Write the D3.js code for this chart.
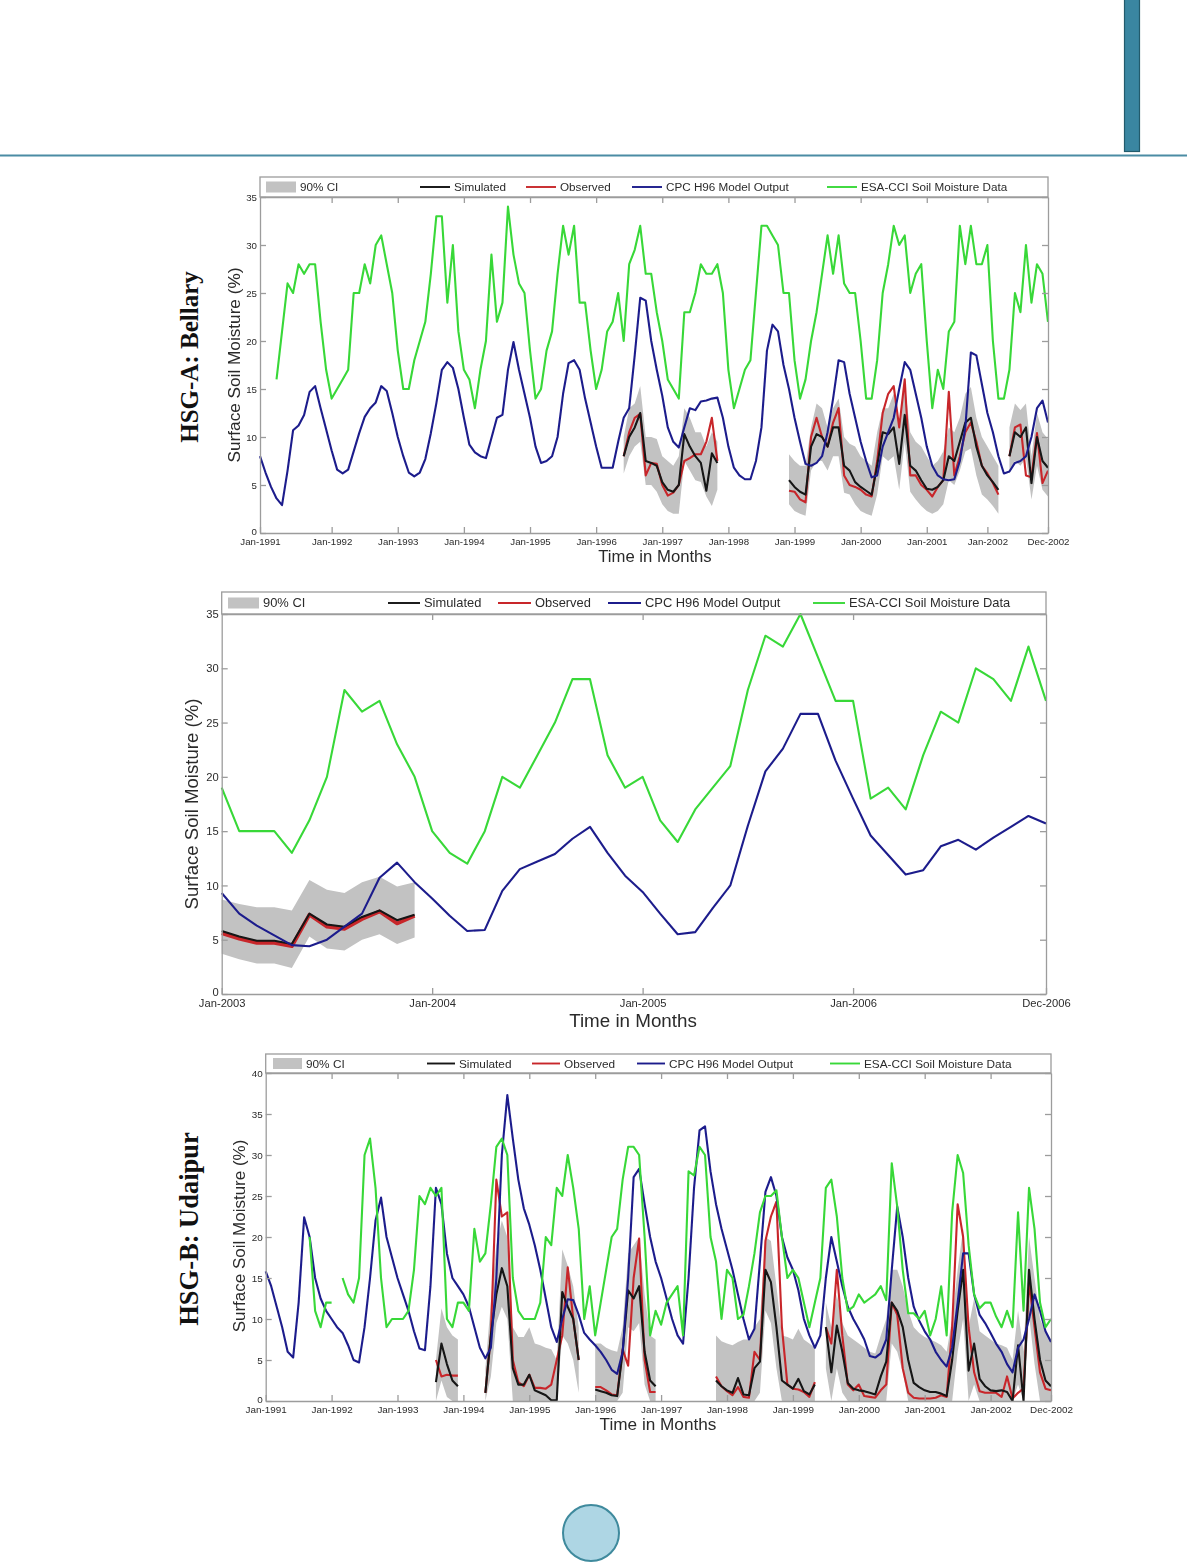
<!DOCTYPE html>
<html>
<head>
<meta charset="utf-8">
<script src="https://cdn.jsdelivr.net/npm/d3@7"></script>
<style>
  html, body { margin: 0; padding: 0; background: #fff; }
  svg { display: block; }
  text { font-family: "Liberation Sans", Arial, sans-serif; fill: #2b2b2b; }
  .side { font-family: "Liberation Serif", serif; font-weight: bold; fill: #111; }
  .axis path, .axis line { stroke: #9c9c9c; }
</style>
</head>
<body>
<svg id="page" width="1187" height="1564">
  <defs><filter id="soft" x="-2%" y="-2%" width="104%" height="104%"><feGaussianBlur stdDeviation="0.35"/></filter></defs>
</svg>
<script>
// ---- series labels
const legendLabels = ['Simulated', 'Observed', 'CPC H96 Model Output', 'ESA-CCI Soil Moisture Data'];
const ciLabel = '90% CI';

// ---- HSG-A Bellary, Jan-1991..Dec-2002, one value per month
const bellaryTickMonths = [0, 13, 25, 37, 49, 61, 73, 85, 97, 109, 121, 132, 143];
const bellaryTickLabels = ['Jan-1991', 'Jan-1992', 'Jan-1993', 'Jan-1994', 'Jan-1995', 'Jan-1996', 'Jan-1997', 'Jan-1998', 'Jan-1999', 'Jan-2000', 'Jan-2001', 'Jan-2002', 'Dec-2002'];
const bellaryEsa = [
  null, null, null, 16, 21, 26, 25, 28, 27, 28, 28, 22,
  17, 14, 15, 16, 17, 25, 25, 28, 26, 30, 31, 28,
  25, 19, 15, 15, 18, 20, 22, 27, 33, 33, 24, 30,
  21, 17, 16, 13, 17, 20, 29, 22, 24, 34, 29, 26,
  25, 19, 14, 15, 19, 21, 27, 32, 29, 32, 24, 24,
  19, 15, 17, 21, 22, 25, 20, 28, 29.5, 32, 27, 27,
  23, 20, 16, 15, 14, 23, 23, 25, 28, 27, 27, 28,
  25, 17, 13, 15, 17, 18, 25, 32, 32, 31, 30, 25,
  25, 18, 14, 16, 20, 23, 27, 31, 27, 31, 26, 25,
  25, 20, 14, 14, 18, 25, 28, 32, 30, 31, 25, 27,
  28, 20, 13, 17, 15, 21, 22, 32, 28, 32, 28, 28,
  30, 20, 14, 14, 17, 25, 23, 30, 24, 28, 27, 22
];
const bellaryCpc = [
  8, 6.3, 4.8, 3.6, 2.9, 6.5, 10.7, 11.2, 12.3, 14.7, 15.3, 13,
  10.8, 8.6, 6.6, 6.2, 6.6, 8.5, 10.4, 12.1, 13, 13.6, 15.3, 14.8,
  12.5, 10, 8, 6.3, 5.9, 6.3, 7.7, 10.4, 13.5, 17, 17.8, 17.2,
  15, 12, 9.2, 8.4, 8, 7.8, 9.9, 12, 12.3, 17, 19.9, 17,
  14.5, 12, 9, 7.3, 7.5, 8, 10, 14.5, 17.7, 18, 17, 14,
  11.5, 9, 6.8, 6.8, 6.8, 9.5, 12, 13, 18.5, 24.5, 24.2, 20,
  17, 14.3, 11, 9.5, 8.9, 11, 13, 12.8, 13.7, 13.8, 14, 14.1,
  12, 9, 6.8, 6, 5.6, 5.6, 7.5, 11, 19, 21.7, 21, 17.5,
  15, 12, 9.5, 7.2, 7, 7.3, 8, 10.5, 14, 18, 17.8, 14.5,
  12, 9.5, 7.5, 5.8, 6, 9, 10.5, 12, 15, 17.8, 17, 14.5,
  12, 9, 7, 6, 5.6, 5.5, 5.6, 7.5, 11, 18.8, 18.5, 15.5,
  12.5, 10.5, 8, 6.2, 6.4, 7.3, 7.5, 8, 10, 13, 13.8, 11.5
];
// validation runs start at these months
const bellaryStart = [66, 96, 136];
const bellarySim = [
  [8, 10, 11, 12.5, 7.5, 7.3, 7, 5.3, 4.5, 4.3, 5, 10.3, 9, 8, 7.3, 4.4, 8.3, 7.3],
  [5.5, 4.8, 4.3, 4, 9, 10.3, 10, 9, 11, 11, 7, 6.5, 5.3, 4.8, 4.4, 4, 7, 10.5, 10.3, 11, 7.2, 12.3, 7, 6.5, 5.5, 4.6, 4.5, 4.8, 5.5, 8, 7.5, 9.5, 11.5, 12, 9, 7, 6, 5.3, 4.5],
  [8, 10.5, 10, 11, 5.2, 10, 7.5, 6.8]
];
const bellaryObs = [
  [8, 10.5, 12, 12.4, 6, 7.3, 7.2, 5, 3.9, 4.2, 5, 7.5, 7.8, 8.2, 8.2, 9.5, 12, 7.5],
  [4.4, 4.3, 3.5, 3.2, 10, 12, 10, 9, 11.5, 13, 6, 5, 4.8, 4.5, 4, 3.8, 7.5, 12.5, 14.5, 15.3, 11, 16, 6, 6, 5, 4.5, 3.8, 4.8, 5.5, 14.7, 6, 8, 10.5, 11.5, 9.5, 7, 6.2, 5.2, 4],
  [8, 11, 11.3, 6, 5.8, 10.4, 5.2, 6.5]
];
const bellaryUpper = [
  [10, 13, 13.5, 15.3, 10, 10, 9.8, 8, 7.5, 7, 8, 13, 12, 10.5, 10.5, 9, 10.5, 9.5],
  [8.2, 7.5, 7, 7, 11, 13.5, 13, 11, 13, 14, 10, 9.3, 9, 8, 7.5, 7, 10.5, 13, 13, 14.5, 11, 15.5, 10.5, 9.5, 9, 8, 7, 7.5, 8.5, 11, 10.5, 12, 14.5, 15.2, 12, 10, 9, 8, 7],
  [11, 13.5, 12.8, 13.5, 8, 12.5, 10.5, 9.8]
];
const bellaryLower = [
  [6.2, 8, 9, 9.5, 5, 5, 4.3, 3, 2.3, 2, 2, 7.5, 6.5, 5.5, 5.3, 3.8, 2.8, 4.5],
  [3, 2.3, 2, 1.8, 6.5, 7.5, 7.5, 6.5, 8, 8, 4.2, 4, 3, 2.3, 2, 1.8, 4, 8, 7.5, 8, 4.5, 9.5, 4.3, 3.5, 2.8, 2.3, 2, 2.3, 3, 5.5, 5, 6.5, 8.5, 8.8, 6, 4, 3.5, 2.8, 2],
  [6.2, 7.5, 7, 7.8, 3.5, 7, 4.5, 3.8]
];

// ---- second panel, Jan-2003..Dec-2006
const lateTickMonths = [0, 12, 24, 36, 47];
const lateTickLabels = ['Jan-2003', 'Jan-2004', 'Jan-2005', 'Jan-2006', 'Dec-2006'];
const lateEsa = [
  19, 15, 15, 15, 13, 16, 20, 28, 26, 27, 23, 20,
  15, 13, 12, 15, 20, 19, 22, 25, 29, 29, 22, 19,
  20, 16, 14, 17, 19, 21, 28, 33, 32, 35, 31, 27,
  27, 18, 19, 17, 22, 26, 25, 30, 29, 27, 32, 27
];
const lateCpc = [
  9.3, 7.4, 6.3, 5.4, 4.5, 4.4, 5, 6.2, 7.4, 10.7, 12.1, 10.3,
  8.8, 7.2, 5.8, 5.9, 9.5, 11.5, 12.2, 12.9, 14.3, 15.4, 13, 10.9,
  9.4, 7.4, 5.5, 5.7, 7.9, 10, 15.5, 20.5, 22.6, 25.8, 25.8, 21.5,
  18, 14.6, 12.8, 11, 11.4, 13.6, 14.2, 13.3, 14.4, 15.4, 16.4, 15.7
];
const lateStart = [0];
const lateSim = [[5.8, 5.3, 4.9, 4.9, 4.6, 7.4, 6.4, 6.2, 7.1, 7.7, 6.8, 7.3]];
const lateObs = [[5.6, 5.1, 4.7, 4.7, 4.4, 7.3, 6.2, 6, 6.9, 7.6, 6.5, 7.2]];
const lateUpper = [[8.7, 8.3, 8, 8, 7.7, 10.5, 9.6, 9.3, 10.3, 10.8, 9.9, 10.3]];
const lateLower = [[3.7, 3.2, 2.8, 2.8, 2.4, 5.3, 4.2, 4, 5, 5.5, 4.6, 5.2]];

// ---- HSG-B Udaipur, Jan-1991..Dec-2002
const udaipurTickMonths = [0, 12, 24, 36, 48, 60, 72, 84, 96, 108, 120, 132, 143];
const udaipurTickLabels = bellaryTickLabels;
const udaipurEsa = [
  null, null, null, null, null, null, null, null, 20, 11, 9, 12,
  12, null, 15, 13, 12, 15, 30, 32, 26, 15, 9, 10,
  10, 10, 11, 16, 25, 24, 26, 25, 26, 10, 9, 12,
  12, 11, 21, 17, 18, 24, 31, 32, 30, 15, 11, 10,
  10, 10, 12, 20, 19, 26, 25, 30, 26, 21, 10, 14,
  8, 12, 16, 20, 21, 27, 31, 31, 30, 20, 8, 11,
  9.3, 12, 13, 14, 8, 28, 27.5, 31, 30, 20, 17, 10,
  16, 15, 10, 10.5, 14, 18, 23, 25, 25, 25.7, 20, 15,
  16, 15, 12, 9, 12, 15, 26, 27, 22.5, 15, 11, 11.5,
  13, 12, 12.5, 13, 14, 12.3, 29, 23.7, 16, 10.7, 10.7, 10,
  11, 8, 10, 14, 8, 23, 30, 27.8, 19, 13, 11.3, 12,
  12, 10.3, 9, 11, 9, 23, 11, 26, 21, 12, 9, 10
];
const udaipurCpc = [
  15.8, 14, 11.5, 9, 6, 5.3, 12, 22.4, 20, 15, 12.5, 11,
  10, 9, 8.3, 6.8, 5, 4.7, 9, 15, 22, 24.8, 20, 17.5,
  15, 13, 11, 8.5, 6.4, 6.2, 14, 26, 24, 18, 15, 14,
  13, 11.5, 9, 6.5, 5.2, 6.5, 15, 30, 37.3, 32, 27, 23.5,
  21.5, 19, 16, 12.5, 9, 7.2, 10, 12.4, 12.3, 10.5, 8.3, 7.5,
  6.8, 6, 5, 3.8, 3.3, 6, 15, 27.3, 28.3, 24, 20, 17,
  15, 12.5, 10, 8, 7, 15, 26, 33, 33.5, 28, 24, 21,
  18.5, 16, 13, 10, 7.5, 8.8, 17, 25.5, 27.3, 25, 20, 17.5,
  16, 13.5, 10, 8, 6.5, 8, 15, 20, 17, 14, 11.5, 10,
  8.8, 7.5, 5.5, 5.3, 5.8, 7.5, 16, 23.7, 20, 15, 11.5, 9.8,
  8.5, 7.5, 6, 5, 4.2, 6.5, 12, 18, 18, 13, 10.5, 9.5,
  8.3, 7, 6, 4.5, 3.5, 6.5, 7.5, 10, 13, 11, 8.5, 7.2
];
const udaipurStart = [31, 40, 60, 82, 102];
const udaipurSim = [
  [2.3, 7, 4.5, 2.5, 1.8],
  [1, 8, 13, 16.2, 14, 4, 2, 2, 3.2, 1.3, 1, 0.7, 0.1, 0.1, 13.3, 11.5, 10, 5],
  [1.4, 1.2, 1, 0.7, 0.6, 6, 13.5, 12.5, 14, 6, 2.5, 1.8],
  [2.5, 1.8, 1.3, 1, 2.8, 0.8, 0.7, 4, 4.8, 16, 14.5, 9, 2.5, 2, 1.5, 2.7, 1.2, 0.8, 2],
  [9, 3.5, 9.2, 6, 2.2, 1.5, 1.3, 1.2, 1, 0.8, 3, 4.8, 12, 11, 9, 5, 2.2, 1.7, 1.3, 1.1, 1.1, 0.9, 0.6, 5, 11, 16, 3.7, 7, 2.7, 1.8, 1.3, 1.2, 1.3, 1.1, 0, 6.8, 0, 16, 10, 5, 2.5, 1.8]
];
const udaipurObs = [
  [5, 3, 3.2, 3.1, 3.1],
  [1, 8, 27, 22.5, 23, 5, 2.3, 1.8, 3.2, 1.6, 1.6, 1.5, 2, 5, 8, 16.3, 10, 5],
  [1.7, 1.7, 1.3, 0.8, 0.7, 6.3, 4.3, 15, 19.8, 5, 1.1, 1.1],
  [3, 1.8, 1.2, 0.7, 1.7, 0.5, 0.4, 6, 5, 19.5, 22.5, 24.3, 9, 2, 1.5, 1.4, 1.1, 0.5, 2.3],
  [9, 7, 16, 8, 2, 1.3, 2, 0.6, 0.5, 0.4, 1.3, 2, 12, 10.5, 4, 1, 0.4, 0.3, 0.3, 0.3, 0.4, 0.7, 0.5, 9, 24, 20, 9, 3.5, 1.2, 1, 1, 1, 0.5, 3, 0.3, 1, 1.5, 14.5, 9, 3.5, 1.5, 1.3]
];
const udaipurUpper = [
  [5, 11.3, 9, 8, 7.5],
  [4, 12, 19, 22, 20, 9, 7.8, 7.8, 9, 7, 6.8, 6.5, 6.3, 5, 18.5, 16.5, 14, 9],
  [7, 7, 6.5, 6.2, 6, 9, 18, 19, 20, 13, 8, 7.5],
  [8, 7.3, 7, 6.8, 7.2, 7.5, 7.5, 9, 10, 20, 19.5, 14, 8, 7.8, 7.5, 8.8, 7.5, 7, 6.5],
  [12, 9, 13, 9.5, 8, 7.5, 7, 6.5, 6, 5.8, 8, 10, 16, 16, 14, 11, 9, 8.3, 7.8, 7.5, 7.2, 6.8, 6, 10, 16, 21, 9, 12.5, 8.5, 8, 7.5, 7, 6.8, 6.5, 5, 11, 6, 20, 15, 10, 8.5, 7.5]
];
const udaipurLower = [
  [0, 2.5, 0.5, 0, 0],
  [0, 3, 9.5, 11.5, 10, 0, 0, 0, 0, 0, 0, 0, 0, 0, 8, 7, 5, 1],
  [0, 0, 0, 0, 0, 1, 9, 8.5, 9.5, 2, 0, 0],
  [0, 0, 0, 0, 0, 0, 0, 0, 1, 11, 9.5, 4, 0, 0, 0, 0, 0, 0, 0],
  [4, 0, 4, 1, 0, 0, 0, 0, 0, 0, 0, 0, 7, 6, 3.5, 0, 0, 0, 0, 0, 0, 0, 0, 0, 6, 10, 0, 2, 0, 0, 0, 0, 0, 0, 0, 2, 0, 10.5, 4.5, 0, 0, 0]
];

const colors = { ci: '#c2c2c2', sim: '#141414', obs: '#c8262b', cpc: '#1d1d8c', esa: '#38d838' };

const svg = d3.select('#page');

// page furniture
svg.append('rect').attr('x', 1124.5).attr('y', -2).attr('width', 15).attr('height', 153.5)
  .attr('fill', '#3a86a1').attr('stroke', '#225b6c').attr('stroke-width', 1.2);
svg.append('line').attr('x1', 0).attr('x2', 1187).attr('y1', 155.5).attr('y2', 155.5)
  .attr('stroke', '#4b8ca4').attr('stroke-width', 2);
svg.append('circle').attr('cx', 591).attr('cy', 1533).attr('r', 28)
  .attr('fill', '#aed6e4').attr('stroke', '#3f8a9d').attr('stroke-width', 2);

function drawPanel(p) {
  const x = d3.scaleLinear().domain([0, p.lastMonth]).range([p.left, p.right]);
  const y = d3.scaleLinear().domain([0, p.yMax]).range([p.bottom, p.top]);
  const g = svg.append('g').attr('filter', 'url(#soft)');

  // legend strip above the plot
  g.append('rect').attr('x', p.left).attr('y', p.legendTop)
    .attr('width', p.right - p.left).attr('height', p.top - p.legendTop)
    .attr('fill', '#fff').attr('stroke', '#9c9c9c').attr('stroke-width', 1.3);

  const legendY = (p.legendTop + p.top) / 2;
  g.append('rect').attr('x', p.swatch[0]).attr('y', legendY - 5.5)
    .attr('width', p.swatch[1] - p.swatch[0]).attr('height', 11).attr('fill', colors.ci);
  g.append('text').attr('x', p.swatch[1] + 4).attr('y', legendY + 4)
    .attr('font-size', p.legendFont).text(ciLabel);
  [colors.sim, colors.obs, colors.cpc, colors.esa].forEach((c, i) => {
    const [x0, x1] = p.legendLines[i];
    g.append('line').attr('x1', x0).attr('x2', x1).attr('y1', legendY).attr('y2', legendY)
      .attr('stroke', c).attr('stroke-width', 1.9);
    g.append('text').attr('x', x1 + 4).attr('y', legendY + 4)
      .attr('font-size', p.legendFont).text(legendLabels[i]);
  });

  // monthly values -> points
  const toPoints = (values, start) => values.map((v, i) => ({ m: start + i, v }));
  const line = d3.line().defined(d => d.v !== null).x(d => x(d.m)).y(d => y(d.v));
  const area = d3.area().x(d => x(d.m)).y0(d => y(d.lo)).y1(d => y(d.hi));

  const plot = g.append('g');
  p.start.forEach((s, k) => {
    const band = p.upper[k].map((hi, i) => ({ m: s + i, hi, lo: p.lower[k][i] }));
    plot.append('path').attr('d', area(band)).attr('fill', colors.ci);
  });
  const drawLine = (values, start, color, w) => plot.append('path')
    .attr('d', line(toPoints(values, start)))
    .attr('fill', 'none').attr('stroke', color).attr('stroke-width', w)
    .attr('stroke-linejoin', 'round');

  p.start.forEach((s, k) => drawLine(p.obs[k], s, colors.obs, p.lineWidth + (p.heavyObs ? 1.6 : 0)));
  p.start.forEach((s, k) => drawLine(p.sim[k], s, colors.sim, p.lineWidth));
  drawLine(p.cpc, 0, colors.cpc, p.lineWidth);
  drawLine(p.esa, 0, colors.esa, p.lineWidth);

  // axes, ticks point inward on all four sides
  const axisStyle = sel => sel.attr('class', 'axis').call(a => a.selectAll('path,line').attr('stroke-width', 1.3));
  const yTicks = d3.range(0, p.yMax + 1, 5);
  g.append('g').attr('transform', `translate(${p.left},0)`)
    .call(d3.axisLeft(y).tickValues(yTicks).tickSizeInner(-6).tickSizeOuter(0).tickPadding(3))
    .call(axisStyle).call(a => {
      a.selectAll('text').attr('font-size', p.tickFont).attr('font-family', null);
      // zero sits just above the month labels
      a.selectAll('.tick').filter(d => d === 0).select('text').attr('y', -2);
    });
  g.append('g').attr('transform', `translate(${p.right},0)`)
    .call(d3.axisRight(y).tickValues(yTicks).tickSizeInner(-6).tickSizeOuter(0).tickFormat(''))
    .call(axisStyle);
  g.append('g').attr('transform', `translate(0,${p.bottom})`)
    .call(d3.axisBottom(x).tickValues(p.tickMonths).tickSizeInner(-6).tickSizeOuter(0).tickPadding(p.tickPad)
      .tickFormat((d, i) => p.tickLabels[i]))
    .call(axisStyle).call(a => a.selectAll('text').attr('font-size', p.tickFont).attr('font-family', null));
  g.append('g').attr('transform', `translate(0,${p.top})`)
    .call(d3.axisTop(x).tickValues(p.tickMonths.slice(1, -1)).tickSizeInner(-6).tickSizeOuter(0).tickFormat(''))
    .call(axisStyle);

  g.append('text').attr('x', p.xTitle[0]).attr('y', p.xTitle[1]).attr('text-anchor', 'middle')
    .attr('font-size', p.xTitleFont).text('Time in Months');
  g.append('text').attr('transform', `translate(${p.yTitle[0]},${p.yTitle[1]}) rotate(-90)`)
    .attr('text-anchor', 'middle').attr('font-size', p.yTitleFont).text('Surface Soil Moisture (%)');
}

drawPanel({
  left: 260, right: 1048, top: 197, bottom: 533, legendTop: 177,
  lastMonth: 143, yMax: 35, lineWidth: 2.1,
  tickMonths: bellaryTickMonths, tickLabels: bellaryTickLabels,
  esa: bellaryEsa, cpc: bellaryCpc, start: bellaryStart, sim: bellarySim, obs: bellaryObs,
  upper: bellaryUpper, lower: bellaryLower,
  swatch: [266, 296], legendLines: [[420, 450], [526, 556], [632, 662], [827, 857]], legendFont: 11.7,
  tickFont: 9.7, tickPad: 5, xTitle: [655, 562], xTitleFont: 16.7, yTitle: [240, 365], yTitleFont: 17.2
});

drawPanel({
  left: 221.7, right: 1046, top: 614, bottom: 994, legendTop: 592,
  lastMonth: 47, yMax: 35, lineWidth: 2.1, heavyObs: true,
  tickMonths: lateTickMonths, tickLabels: lateTickLabels,
  esa: lateEsa, cpc: lateCpc, start: lateStart, sim: lateSim, obs: lateObs,
  upper: lateUpper, lower: lateLower,
  swatch: [228, 259], legendLines: [[388, 420], [498, 531], [608, 641], [813, 845]], legendFont: 12.9,
  tickFont: 11.2, tickPad: 5, xTitle: [633, 1027], xTitleFont: 18.8, yTitle: [198, 804], yTitleFont: 18.6
});

drawPanel({
  left: 265.7, right: 1051, top: 1073, bottom: 1401, legendTop: 1054,
  lastMonth: 143, yMax: 40, lineWidth: 2.1,
  tickMonths: udaipurTickMonths, tickLabels: udaipurTickLabels,
  esa: udaipurEsa, cpc: udaipurCpc, start: udaipurStart, sim: udaipurSim, obs: udaipurObs,
  upper: udaipurUpper, lower: udaipurLower,
  swatch: [273, 302], legendLines: [[427, 455], [532, 560], [637, 665], [830, 860]], legendFont: 11.8,
  tickFont: 9.9, tickPad: 5, xTitle: [658, 1430], xTitleFont: 17.2, yTitle: [245, 1236], yTitleFont: 17
});

// site labels beside the first and third panels
svg.append('text').attr('class', 'side').attr('transform', 'translate(198,357) rotate(-90)')
  .attr('text-anchor', 'middle').attr('font-size', 25).text('HSG-A: Bellary');
svg.append('text').attr('class', 'side').attr('transform', 'translate(198,1229) rotate(-90)')
  .attr('text-anchor', 'middle').attr('font-size', 26.5).text('HSG-B: Udaipur');
</script>
</body>
</html>
